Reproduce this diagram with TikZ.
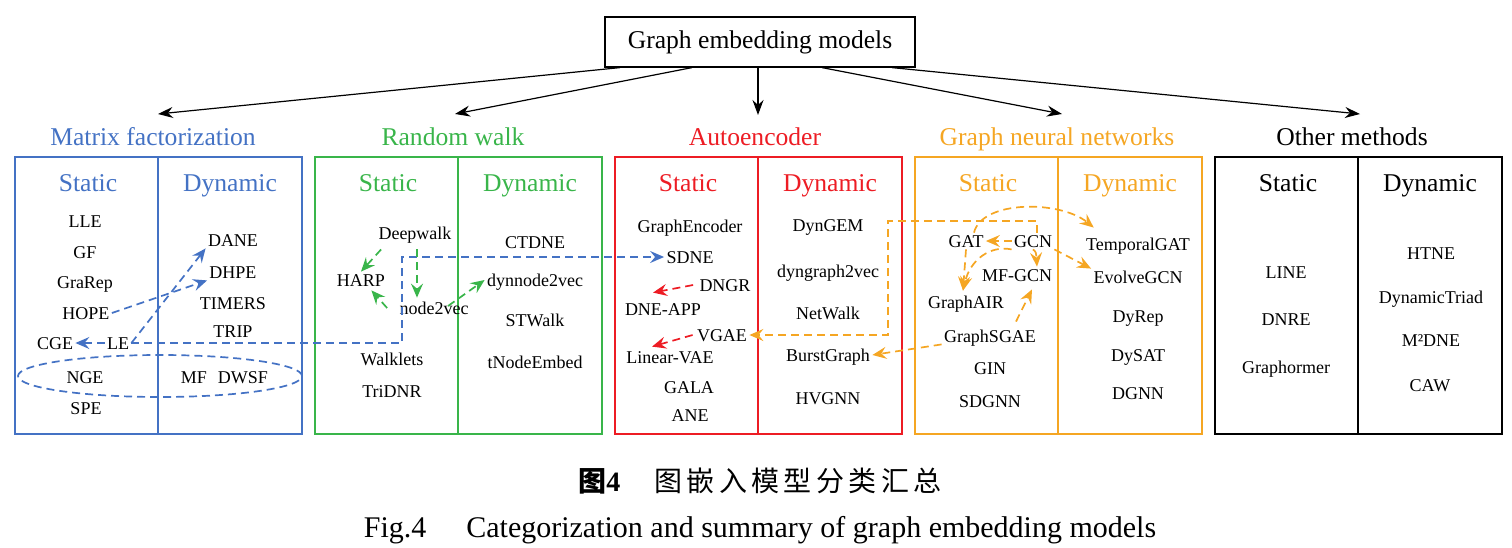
\documentclass[tikz,border=0pt]{standalone}
\usepackage{fontspec}
\setmainfont{Liberation Serif}
\newfontfamily\cjk{Noto Sans CJK SC}
\usetikzlibrary{arrows.meta,shapes.geometric,calc}
\definecolor{mfblue}{RGB}{68,114,196}
\definecolor{rwgreen}{RGB}{57,181,74}
\definecolor{aered}{RGB}{237,28,36}
\definecolor{gnnorange}{RGB}{245,166,35}
\begin{document}
\begin{tikzpicture}[x=0.5pt,y=-0.5pt,
 item/.style={font=\fontsize{9}{10}\selectfont, text height=6pt, text depth=0pt, inner sep=1pt},
 hdr/.style={font=\fontsize{12.8}{14}\selectfont, text height=8.5pt, text depth=0pt, inner sep=1pt},
 catbox/.style={line width=0.75pt},
 link/.style={dash pattern=on 4pt off 2.5pt, line width=0.85pt, -{Stealth[length=7pt,width=6pt,inset=2.5pt]}},
 tree/.style={line width=0.6pt, -{Stealth[length=7.5pt,width=5.5pt,inset=2.5pt]}},
]
\useasboundingbox (0,0) rectangle (1512,547);

% top node
\node[draw, line width=0.6pt, minimum width=155pt, minimum height=25pt, font=\fontsize{12.8}{14}\selectfont] (top) at (760,42) {Graph embedding models};

% category titles
\node[hdr, text=mfblue] (mf) at (153,137) {Matrix factorization};
\node[hdr, text=rwgreen] (rw) at (453,137) {Random walk};
\node[hdr, text=aered] (ae) at (755,137) {Autoencoder};
\node[hdr, text=gnnorange] (gnn) at (1057,137) {Graph neural networks};
\node[hdr, text=black] (oth) at (1352,137) {Other methods};

\coordinate (t1) at (158,114);
\coordinate (t2) at (455,114);
\coordinate (t3) at (758,115);
\coordinate (t4) at (1062,114);
\coordinate (t5) at (1360,114);
\draw[tree] ([xshift=-70pt]top.south) -- (t1);
\draw[tree] ([xshift=-34pt]top.south) -- (t2);
\draw[tree] ([xshift=-1pt]top.south) -- (t3);
\draw[tree] ([xshift=31pt]top.south) -- (t4);
\draw[tree] ([xshift=66pt]top.south) -- (t5);

% boxes and headers
\foreach \l/\c/\n in {15/mfblue/1,315/rwgreen/2,615/aered/3,915/gnnorange/4,1215/black/5} {
  \draw[catbox, draw=\c] (\l,157) rectangle ++(287,277);
  \draw[catbox, draw=\c] (\l+143,157) -- (\l+143,434);
  \node[hdr, text=\c] (st\n) at (\l+73,183) {Static};
  \node[hdr, text=\c] (dy\n) at (\l+215,183) {Dynamic};
}

% Matrix factorization
\node[item] (lle) at (85,221) {LLE};
\node[item] (gf) at (85,252) {GF};
\node[item] (grarep) at (85,282) {GraRep};
\node[item] (hope) at (86,313) {HOPE};
\node[item] (cge) at (55,343) {CGE};
\node[item] (le) at (118,343) {LE};
\node[item] (nge) at (85,377) {NGE};
\node[item] (spe) at (86,408) {SPE};
\node[item] (dane) at (233,240) {DANE};
\node[item] (dhpe) at (233,272) {DHPE};
\node[item] (timers) at (233,303) {TIMERS};
\node[item] (trip) at (233,331) {TRIP};
\node[item] (mfn) at (194,377) {MF};
\node[item] (dwsf) at (243,377) {DWSF};
\node[draw=mfblue, ellipse, dash pattern=on 4pt off 2.5pt, line width=0.85pt, minimum width=142pt, minimum height=21pt, inner sep=0pt] (grp) at (160,376) {};

% Random walk
\node[item] (deepwalk) at (415,233) {Deepwalk};
\node[item] (harp) at (361,280) {HARP};
\node[item] (node2vec) at (434,308) {node2vec};
\node[item] (walklets) at (392,359) {Walklets};
\node[item] (tridnr) at (392,391) {TriDNR};
\node[item] (ctdne) at (535,242) {CTDNE};
\node[item] (dynnode2vec) at (535,280) {dynnode2vec};
\node[item] (stwalk) at (535,320) {STWalk};
\node[item] (tnodeembed) at (535,362) {tNodeEmbed};

% Autoencoder
\node[item] (graphencoder) at (690,226) {GraphEncoder};
\node[item] (sdne) at (690,257) {SDNE};
\node[item] (dngr) at (725,285) {DNGR};
\node[item] (dneapp) at (663,309) {DNE-APP};
\node[item] (vgae) at (722,335) {VGAE};
\node[item] (linvae) at (670,357) {Linear-VAE};
\node[item] (gala) at (689,387) {GALA};
\node[item] (ane) at (690,415) {ANE};
\node[item] (dyngem) at (828,225) {DynGEM};
\node[item] (dyngraph2vec) at (828,271) {dyngraph2vec};
\node[item] (netwalk) at (828,313) {NetWalk};
\node[item] (burstgraph) at (828,355) {BurstGraph};
\node[item] (hvgnn) at (828,398) {HVGNN};

% GNN
\node[item] (gat) at (966,241) {GAT};
\node[item] (gcn) at (1033,241) {GCN};
\node[item] (mfgcn) at (1017,275) {MF-GCN};
\node[item] (graphair) at (966,302) {GraphAIR};
\node[item] (graphsgae) at (990,336) {GraphSGAE};
\node[item] (gin) at (990,368) {GIN};
\node[item] (sdgnn) at (990,401) {SDGNN};
\node[item] (tgat) at (1138,244) {TemporalGAT};
\node[item] (evolvegcn) at (1138,277) {EvolveGCN};
\node[item] (dyrep) at (1138,316) {DyRep};
\node[item] (dysat) at (1138,355) {DySAT};
\node[item] (dgnn) at (1138,393) {DGNN};

% Other
\node[item] (line) at (1286,272) {LINE};
\node[item] (dnre) at (1286,319) {DNRE};
\node[item] (graphormer) at (1286,367) {Graphormer};
\node[item] (htne) at (1431,253) {HTNE};
\node[item] (dyntriad) at (1431,297) {DynamicTriad};
\node[item] (m2dne) at (1431,340) {M²DNE};
\node[item] (caw) at (1430,385) {CAW};

% blue connectors
\draw[link, mfblue] (hope.east) -- (dhpe.south west);
\draw[link, mfblue] (le.east) -- (dane.south west);
\draw[link, mfblue] (le.west) -- (cge.east);
\coordinate (bb) at (402,257);
\draw[link, mfblue] (le.east) -| (bb) -- (sdne.west);

% green connectors
\draw[link, rwgreen] ([xshift=2.5pt,yshift=-4pt]deepwalk.south west) -- (harp.north);
\draw[link, rwgreen] ($(deepwalk.south)+(2,8)$) -- ($(deepwalk.south |- node2vec.north)+(2,-2)$);
\draw[link, rwgreen] ([xshift=-5pt]node2vec.west) -- ([xshift=-8pt,yshift=-1pt]harp.south east);
\draw[link, rwgreen] ([xshift=7pt,yshift=1pt]node2vec.center) -- (dynnode2vec.west);

% red connectors
\draw[link, aered] ([xshift=-2pt]dngr.west) -- ([xshift=-5pt,yshift=4pt]dneapp.north);
\draw[link, aered] ([xshift=-1pt]vgae.west) -- ([xshift=-9pt,yshift=1pt]linvae.north);

% orange connectors
\coordinate (oc) at (888,221);
\draw[link, gnnorange] ([xshift=2pt]gcn.north) |- (oc) |- (vgae.east);
\draw[link, gnnorange] (graphsgae.south west) -- (burstgraph.east);
\draw[link, gnnorange] (gcn.west) -- (gat.east);
\draw[link, gnnorange] (gcn.south) .. controls (1036,252) .. ([xshift=10pt]mfgcn.north);
\draw[link, gnnorange] (gcn.south east) -- (evolvegcn.north west);
\draw[link, gnnorange] ([xshift=4pt]gat.north) .. controls (982,200) and (1060,200) .. ([xshift=5pt,yshift=4pt]tgat.north west);
\draw[link, gnnorange] (gat.south) -- ([xshift=-1.5pt,yshift=1.5pt]graphair.north);
\draw[link, gnnorange] (gcn.south west) .. controls (990,245) and (970,260) .. ([xshift=-1.5pt,yshift=1.5pt]graphair.north);
\draw[link, gnnorange] ([xshift=13pt,yshift=3pt]graphsgae.north) -- ([xshift=7.5pt,yshift=-3pt]mfgcn.south);

% captions
\node[anchor=base, inner sep=0pt, font=\fontsize{14}{16}\selectfont] (cap1) at (760,491)
  {{\cjk\bfseries 图}\textbf{4}\hspace{17pt}{\cjk 图\hspace{2.2pt}嵌\hspace{2.2pt}入\hspace{2.2pt}模\hspace{2.2pt}型\hspace{2.2pt}分\hspace{2.2pt}类\hspace{2.2pt}汇\hspace{2.2pt}总}};
\node[anchor=base, inner sep=0pt, font=\fontsize{15}{17}\selectfont] (cap2) at (760,537)
  {Fig.4\hspace{20pt}Categorization and summary of graph embedding models};
\end{tikzpicture}
\end{document}
